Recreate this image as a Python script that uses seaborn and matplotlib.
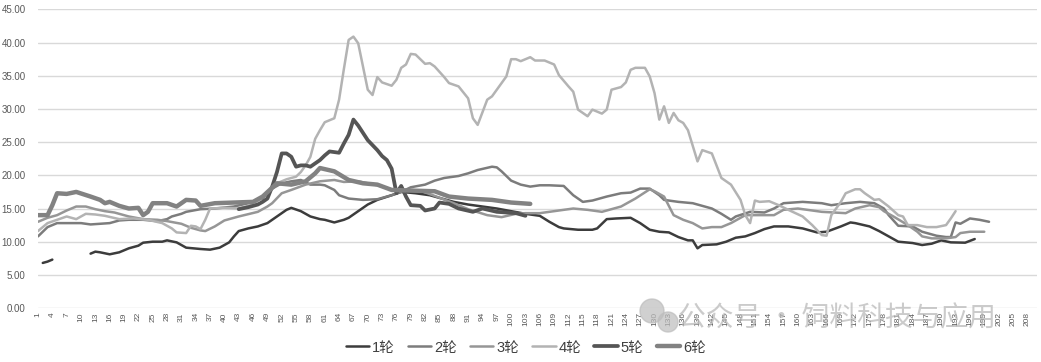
import numpy as np
import pandas as pd
import matplotlib
matplotlib.use('Agg')
import matplotlib.pyplot as plt
import seaborn as sns
from matplotlib.ticker import FuncFormatter
from matplotlib.patches import Ellipse

# values (x = category number 1..210)
r1a_x = [2, 3, 4]
r1a_y = [6.8, 7.0, 7.3]

r1_x = [12, 13, 14, 16, 18, 20, 22, 23, 25, 27, 28, 30, 31, 32, 35, 37, 39, 41, 42, 43,
        45, 47, 49, 51, 53, 54, 56, 58, 60, 61, 63, 65, 66, 68, 70, 72, 75, 77, 80, 83,
        85, 88, 91, 94, 97, 100, 103, 106, 108, 110, 111, 114, 117, 118, 120, 122, 125, 127, 129, 131,
        133, 135, 137, 138, 139, 140, 143, 145, 147, 149, 151, 153, 155, 158, 161, 164, 166, 169, 171, 172,
        175, 177, 179, 181, 184, 186, 188, 190, 192, 195, 197]
r1_y = [8.2, 8.5, 8.4, 8.1, 8.4, 9.0, 9.4, 9.85, 10.0, 10.0, 10.2, 9.9, 9.5, 9.1, 8.9, 8.8, 9.1, 9.9, 10.8, 11.6,
        12.0, 12.3, 12.8, 13.8, 14.8, 15.1, 14.6, 13.8, 13.4, 13.3, 12.9, 13.3, 13.6, 14.6, 15.6, 16.3, 17.0, 17.5, 17.3, 17.0,
        16.6, 16.0, 15.6, 15.3, 15.0, 14.6, 14.2, 13.9, 13.0, 12.2, 12.0, 11.8, 11.8, 12.0, 13.4, 13.5, 13.6, 12.8, 11.8, 11.5,
        11.4, 10.7, 10.2, 10.2, 9.0, 9.5, 9.6, 10.0, 10.6, 10.8, 11.3, 11.9, 12.3, 12.3, 12.0, 11.4, 11.5, 12.3, 12.9, 12.8,
        12.3, 11.6, 10.8, 10.0, 9.8, 9.5, 9.7, 10.2, 9.9, 9.85, 10.4]

r2_x = [1, 2, 3, 5, 8, 10, 12, 14, 16, 18, 20, 23, 26, 28, 29, 31, 32, 35, 38, 42,
        45, 48, 50, 52, 54, 56, 58, 60, 61, 63, 64, 66, 69, 72, 75, 77, 79, 82, 84, 86,
        89, 91, 93, 96, 97, 98, 100, 102, 104, 106, 108, 111, 113, 115, 117, 120, 123, 125, 127, 129,
        131, 132, 135, 138, 142, 144, 146, 147, 150, 153, 155, 157, 161, 165, 167, 170, 173, 176, 178, 179,
        181, 184, 186, 189, 191, 192, 193, 194, 196, 198, 200]
r2_y = [10.8, 11.5, 12.2, 12.8, 12.8, 12.8, 12.6, 12.7, 12.8, 13.2, 13.3, 13.3, 13.1, 13.4, 13.8, 14.2, 14.5, 14.9, 15.0, 15.3,
        15.8, 16.5, 18.0, 18.8, 19.1, 19.3, 18.6, 18.6, 18.5, 17.8, 17.0, 16.5, 16.3, 16.4, 17.0, 17.5, 18.2, 18.6, 19.2, 19.6,
        19.9, 20.3, 20.8, 21.3, 21.2, 20.6, 19.2, 18.6, 18.3, 18.5, 18.5, 18.4, 17.0, 16.0, 16.2, 16.8, 17.3, 17.4, 18.0, 18.0,
        17.0, 16.3, 16.0, 15.8, 15.0, 14.2, 13.3, 13.8, 14.5, 14.4, 15.0, 15.8, 16.0, 15.8, 15.5, 15.8, 16.0, 15.8, 15.0, 14.0,
        12.4, 12.3, 11.5, 10.9, 10.7, 10.7, 12.9, 12.7, 13.5, 13.3, 13.0]

r3_x = [1, 3, 5, 7, 9, 11, 13, 15, 17, 20, 23, 26, 28, 31, 33, 35, 36, 38, 40, 43,
        47, 49, 50, 52, 54, 57, 60, 63, 65, 68, 70, 72, 75, 77, 79, 81, 84, 88, 91, 95,
        98, 101, 103, 106, 109, 113, 116, 119, 123, 126, 129, 130, 132, 134, 136, 138, 140, 142, 144, 146,
        149, 152, 155, 157, 160, 165, 170, 172, 175, 177, 178, 180, 183, 185, 186, 188, 191, 193, 194, 196,
        199]
r3_y = [13.0, 13.6, 14.0, 14.7, 15.3, 15.3, 14.9, 14.6, 14.4, 13.8, 13.4, 13.3, 13.1, 12.7, 12.1, 11.7, 11.6, 12.3, 13.2, 13.8,
        14.5, 15.3, 15.8, 17.3, 17.8, 18.6, 19.1, 19.3, 19.0, 19.1, 18.8, 18.5, 17.9, 17.6, 17.8, 17.7, 16.9, 15.8, 14.9, 14.0,
        13.7, 14.2, 14.3, 14.3, 14.6, 15.0, 14.8, 14.5, 15.3, 16.5, 17.9, 17.6, 16.8, 14.0, 13.3, 12.8, 12.0, 12.2, 12.2, 12.8,
        14.0, 14.0, 14.0, 14.8, 15.0, 14.5, 14.3, 15.0, 15.5, 15.2, 14.6, 13.8, 12.5, 11.5, 10.8, 10.5, 10.5, 10.7, 11.3, 11.5,
        11.5]

r4_x = [1, 3, 5, 7, 9, 11, 13, 15, 18, 21, 24, 27, 29, 30, 32, 33, 34, 35, 36, 37,
        40, 43, 46, 49, 51, 53, 55, 56, 57, 58, 59, 60, 61, 63, 64, 65, 66, 67, 68, 69,
        70, 71, 72, 73, 75, 76, 77, 78, 79, 80, 82, 83, 84, 86, 87, 89, 91, 92, 93, 95,
        96, 98, 99, 100, 101, 102, 104, 105, 107, 109, 110, 112, 113, 114, 116, 117, 119, 120, 121, 123,
        124, 125, 126, 128, 129, 130, 131, 132, 133, 134, 135, 136, 137, 139, 140, 142, 144, 146, 148, 149,
        150, 151, 152, 154, 156, 158, 161, 163, 165, 166, 167, 169, 170, 172, 173, 174, 176, 177, 179, 181,
        182, 183, 185, 187, 189, 191, 192, 193]
r4_y = [11.6, 12.8, 13.3, 13.8, 13.4, 14.2, 14.1, 13.9, 13.4, 13.5, 13.3, 12.8, 12.0, 11.4, 11.3, 12.4, 12.3, 11.9, 13.3, 15.0,
        15.1, 15.0, 15.6, 17.3, 18.8, 19.4, 19.8, 20.5, 21.5, 22.8, 25.5, 26.8, 28.0, 28.6, 31.4, 36.0, 40.4, 40.9, 39.9, 36.4,
        32.9, 32.1, 34.8, 34.0, 33.5, 34.4, 36.2, 36.7, 38.3, 38.2, 36.8, 36.9, 36.4, 34.8, 33.9, 33.4, 31.6, 28.6, 27.6, 31.4,
        31.9, 33.9, 34.9, 37.5, 37.5, 37.2, 37.8, 37.3, 37.3, 36.7, 35.1, 33.4, 32.6, 29.9, 28.9, 29.9, 29.3, 29.9, 32.9, 33.3,
        34.0, 35.9, 36.2, 36.2, 34.9, 32.4, 28.4, 30.4, 27.9, 29.4, 28.3, 27.9, 26.8, 22.1, 23.8, 23.3, 19.6, 18.6, 16.3, 14.0,
        12.8, 16.2, 16.0, 16.1, 15.5, 14.8, 13.8, 12.5, 11.0, 10.9, 14.0, 16.0, 17.3, 17.9, 17.9, 17.3, 16.3, 16.4, 15.3, 14.0,
        13.8, 12.5, 12.5, 12.2, 12.2, 12.5, 13.5, 14.6]

r5_x = [43, 45, 47, 48, 49, 50, 51, 52, 53, 54, 55, 56, 57, 58, 60, 61, 62, 64, 65, 66,
        67, 68, 70, 72, 73, 74, 75, 76, 77, 78, 79, 81, 82, 84, 85, 87, 89, 92, 94, 97,
        101, 103]
r5_y = [14.9, 15.2, 15.6, 16.0, 16.5, 18.3, 20.5, 23.3, 23.3, 22.8, 21.3, 21.5, 21.5, 21.3, 22.3, 23.0, 23.6, 23.4, 24.8, 26.1,
        28.4, 27.5, 25.3, 23.8, 22.9, 22.3, 21.0, 17.3, 18.4, 16.8, 15.5, 15.4, 14.7, 15.0, 15.9, 15.7, 15.0, 14.5, 15.0, 14.5,
        14.3, 13.9]

r6_x = [1, 3, 4, 5, 7, 9, 12, 14, 15, 16, 18, 20, 22, 23, 24, 25, 28, 30, 32, 34,
        35, 38, 42, 46, 48, 51, 54, 57, 59, 60, 63, 66, 69, 72, 75, 79, 84, 87, 91, 96,
        100, 104]
r6_y = [14.0, 14.0, 15.5, 17.3, 17.2, 17.5, 16.8, 16.3, 15.8, 16.0, 15.4, 15.0, 15.1, 14.0, 14.5, 15.8, 15.8, 15.3, 16.3, 16.2,
        15.4, 15.8, 15.9, 16.0, 16.8, 18.8, 18.6, 19.1, 20.3, 21.1, 20.6, 19.3, 18.8, 18.6, 17.8, 17.7, 17.6, 16.8, 16.5, 16.3,
        15.9, 15.7]

names = ['1轮', '2轮', '3轮', '4轮', '5轮', '6轮']
colors = ['#3c3c3c', '#7c7c7c', '#969696', '#b3b3b3', '#555555', '#828282']
widths = [1.8, 1.8, 1.8, 1.8, 2.7, 3.2]

sns.set_style('white')
plt.rcParams['font.family'] = ['Liberation Sans', 'Noto Sans CJK SC', 'DejaVu Sans']

fig = plt.figure(figsize=(10.41, 3.62), dpi=100)
ax = fig.add_axes([0.0365, 0.149, 0.9595, 0.825])

series = [(r1_x, r1_y), (r2_x, r2_y), (r3_x, r3_y), (r4_x, r4_y), (r5_x, r5_y), (r6_x, r6_y)]
for i, (xs, ys) in enumerate(series):
    df = pd.DataFrame({'x': xs, 'y': ys})
    sns.lineplot(data=df, x='x', y='y', ax=ax, color=colors[i], lw=widths[i],
                 label=names[i], estimator=None, sort=True, zorder=3 + i)
    if i == 0:
        # first little piece of 1轮 before the gap
        sns.lineplot(x=r1a_x, y=r1a_y, ax=ax, color=colors[0], lw=widths[0],
                     estimator=None, legend=False, zorder=3)

ax.set_xlim(1, 210)
ax.set_ylim(0, 45)
ax.set_yticks(np.arange(0, 46, 5))
ax.yaxis.set_major_formatter(FuncFormatter(lambda v, p: f'{v:.2f}'))
xt = list(range(1, 209, 3))
ax.set_xticks(xt)
ax.set_xticklabels([str(t) for t in xt], rotation=90)
ax.tick_params(axis='x', labelsize=6, colors='#595959', length=0, pad=3)
ax.tick_params(axis='y', labelsize=7, colors='#595959', length=0, pad=9)
ax.grid(axis='y', color='#d9d9d9', lw=1.0)
ax.grid(axis='x', visible=False)
for s in ax.spines.values():
    s.set_visible(False)
ax.set_xlabel('')
ax.set_ylabel('')

ax.get_legend().remove()
handles, labels = ax.get_legend_handles_labels()
fig.legend(handles, labels, loc='center', bbox_to_anchor=(0.505, 0.04), ncol=6,
           frameon=False, fontsize=10.5, handlelength=1.6, handletextpad=0.2,
           columnspacing=0.9, labelcolor='#404040')

# watermark
for cx, cy, r in [(652, 311, 12), (668, 322, 10)]:
    fig.patches.append(Ellipse((cx / 1041, 1 - cy / 362), 2 * r / 1041, 2 * r / 362,
                               transform=fig.transFigure, color='#bdbdbd', alpha=0.7, zorder=10))
fig.text(0.651, 0.119, '公众号 · 饲料科技与应用', fontsize=20, color='#b5b5b5', alpha=0.7,
         va='center', ha='left', family=['Noto Sans CJK SC', 'DejaVu Sans'], zorder=10)

fig.savefig('out.png', dpi=100)
